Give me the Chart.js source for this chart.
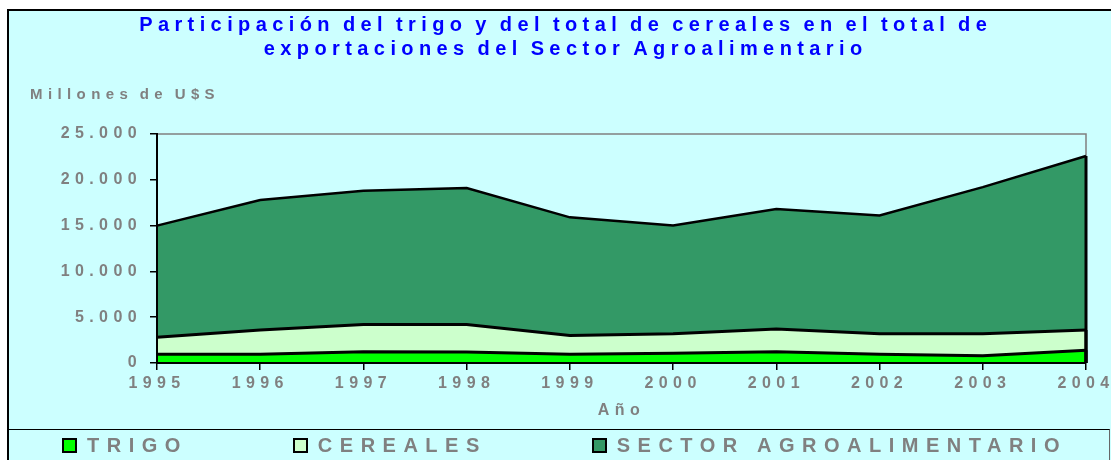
<!DOCTYPE html>
<html>
<head>
<meta charset="utf-8">
<script src="https://cdn.jsdelivr.net/npm/chart.js@4"></script>
<style>
  body { margin: 0; background: #fff; font-family: "Liberation Sans", Arial, sans-serif; }
  #frame {
    position: absolute; left: 7px; top: 9px; width: 1110px; height: 460px;
    background: #ccffff; border-top: 2px solid #000; border-left: 2px solid #000;
  }
  #wrap { position: absolute; left: 0; top: 0; width: 1111px; height: 460px; }
  #legend {
    position: absolute; left: 7px; top: 429px; width: 1100px; height: 40px;
    border-top: 1.5px solid #000; border-left: 2px solid #000; border-right: 1px solid #666;
  }
  #legend ul { list-style: none; margin: 0; padding: 0 0 0 53px; display: flex; gap: 105px; height: 30px; align-items: center; }
  #legend li { display: flex; align-items: center; }
  #legend .box { width: 11px; height: 11px; border: 2px solid #000; margin-right: 10px; }
  #legend .txt { font-weight: bold; font-size: 20px; letter-spacing: 7.5px; color: #808080; }
</style>
</head>
<body>
<div id="frame"></div>
<div id="wrap"><canvas id="myChart"></canvas></div>
<div id="legend"></div>
<script>
const years = ['1995', '1996', '1997', '1998', '1999', '2000', '2001', '2002', '2003', '2004'];
const trigo = [950, 950, 1230, 1200, 950, 1060, 1230, 950, 800, 1390];
const cereales = [2800, 3600, 4200, 4200, 3000, 3200, 3700, 3200, 3200, 3600];
const sector = [15000, 17800, 18800, 19100, 15900, 15000, 16800, 16100, 19200, 22600];
const yTicks = [0, 5000, 10000, 15000, 20000, 25000];

const gray = '#808080';

// letter spacing for the canvas text, narrow word gaps in the title
const spacingPlugin = {
    id: 'spacing',
    beforeDraw(chart) {
        chart.ctx.letterSpacing = '5.4px';
        chart.ctx.wordSpacing = '-3px';
    },
    beforeDatasetsDraw(chart) {
        // top and right edge of the plot area in gray
        const {ctx, chartArea: a} = chart;
        ctx.save();
        ctx.strokeStyle = gray;
        ctx.lineWidth = 1.5;
        ctx.beginPath();
        ctx.moveTo(a.left, a.top);
        ctx.lineTo(a.right, a.top);
        ctx.lineTo(a.right, a.bottom);
        ctx.stroke();
        ctx.restore();
    },
    afterDatasetsDraw(chart) {
        const {ctx} = chart;
        // close each area at its last point with a black edge
        const y0 = chart.scales.y.getPixelForValue(0);
        ctx.save();
        ctx.strokeStyle = '#000';
        ctx.lineWidth = 3;
        chart.data.datasets.forEach((ds, i) => {
            const pts = chart.getDatasetMeta(i).data;
            const last = pts[pts.length - 1];
            ctx.beginPath();
            ctx.moveTo(last.x, last.y);
            ctx.lineTo(last.x, y0);
            ctx.stroke();
        });
        ctx.restore();
        ctx.wordSpacing = '0px';
    }
};

const htmlLegend = {
    id: 'htmlLegend',
    afterUpdate(chart) {
        const ul = document.createElement('ul');
        chart.data.datasets.forEach(ds => {
            const li = document.createElement('li');
            const box = document.createElement('span');
            box.className = 'box';
            box.style.background = ds.backgroundColor;
            const txt = document.createElement('span');
            txt.className = 'txt';
            txt.textContent = ds.label;
            li.appendChild(box);
            li.appendChild(txt);
            ul.appendChild(li);
        });
        const el = document.getElementById('legend');
        el.innerHTML = '';
        el.appendChild(ul);
    }
};

const ctx = document.getElementById('myChart').getContext('2d');

const chart = new Chart(ctx, {
    type: 'line',
    data: {
        labels: years,
        datasets: [
            {
                label: 'TRIGO',
                data: trigo,
                backgroundColor: '#00ff00',
                borderColor: '#000',
                borderWidth: 3,
                fill: 'origin',
                pointRadius: 0,
                tension: 0,
            },
            {
                label: 'CEREALES',
                data: cereales,
                backgroundColor: '#ccffcc',
                borderColor: '#000',
                borderWidth: 3,
                fill: 'origin',
                pointRadius: 0,
                tension: 0,
            },
            {
                label: 'SECTOR AGROALIMENTARIO',
                data: sector,
                backgroundColor: '#339966',
                borderColor: '#000',
                borderWidth: 2.5,
                fill: 'origin',
                pointRadius: 0,
                tension: 0,
            }
        ]
    },
    options: {
        responsive: true,
        maintainAspectRatio: false,
        animation: false,
        layout: {
            padding: { left: 30, right: 9.6, top: 0, bottom: 31 }
        },
        plugins: {
            legend: { display: false },
            tooltip: { enabled: false },
            title: {
                display: true,
                text: ['Participación del trigo y del total de cereales en el total de',
                       'exportaciones del Sector Agroalimentario'],
                color: '#0000ff',
                font: { family: 'Liberation Sans', size: 20, weight: 'bold', lineHeight: 1.2 },
                padding: { top: 13, bottom: 10 },
            },
            subtitle: {
                display: true,
                text: 'Millones de U$S',
                align: 'start',
                color: gray,
                font: { family: 'Liberation Sans', size: 15, weight: 'bold', lineHeight: 1.2 },
                padding: { top: 15, bottom: 30 },
                z: 1,
            }
        },
        scales: {
            x: {
                offset: false,
                grid: {
                    display: true,
                    drawOnChartArea: false,
                    drawTicks: true,
                    tickLength: 7,
                    color: '#000',
                    lineWidth: 1.5,
                    offset: false,
                },
                border: { display: true, color: '#000', width: 2, z: 1 },
                ticks: {
                    color: gray,
                    font: { family: 'Liberation Sans', size: 16, weight: 'bold' },
                    padding: 4,
                    maxRotation: 0,
                    autoSkip: false,
                },
                title: {
                    display: true,
                    text: 'Año',
                    color: gray,
                    font: { family: 'Liberation Sans', size: 16, weight: 'bold', lineHeight: 1.2 },
                    padding: { top: 0, bottom: 8.4 },
                },
                afterFit: (scale) => {
                    scale.height = 66;
                    scale.paddingLeft = 0;
                    scale.paddingRight = 25;
                }
            },
            y: {
                min: 0,
                max: 25000,
                afterBuildTicks: (scale) => {
                    scale.ticks = yTicks.map(v => ({ value: v }));
                },
                grid: {
                    display: true,
                    drawOnChartArea: false,
                    drawTicks: true,
                    tickLength: 7,
                    color: '#000',
                    lineWidth: 1.5,
                },
                border: { display: true, color: '#000', width: 2, z: 1 },
                ticks: {
                    color: gray,
                    font: { family: 'Liberation Sans', size: 16, weight: 'bold' },
                    padding: 8,
                    callback: (value) => String(value).replace(/\B(?=(\d{3})+(?!\d))/g, '.'),
                },
                afterFit: (scale) => {
                    scale.width = 127;
                }
            }
        }
    },
    plugins: [spacingPlugin, htmlLegend]
});
</script>
</body>
</html>
